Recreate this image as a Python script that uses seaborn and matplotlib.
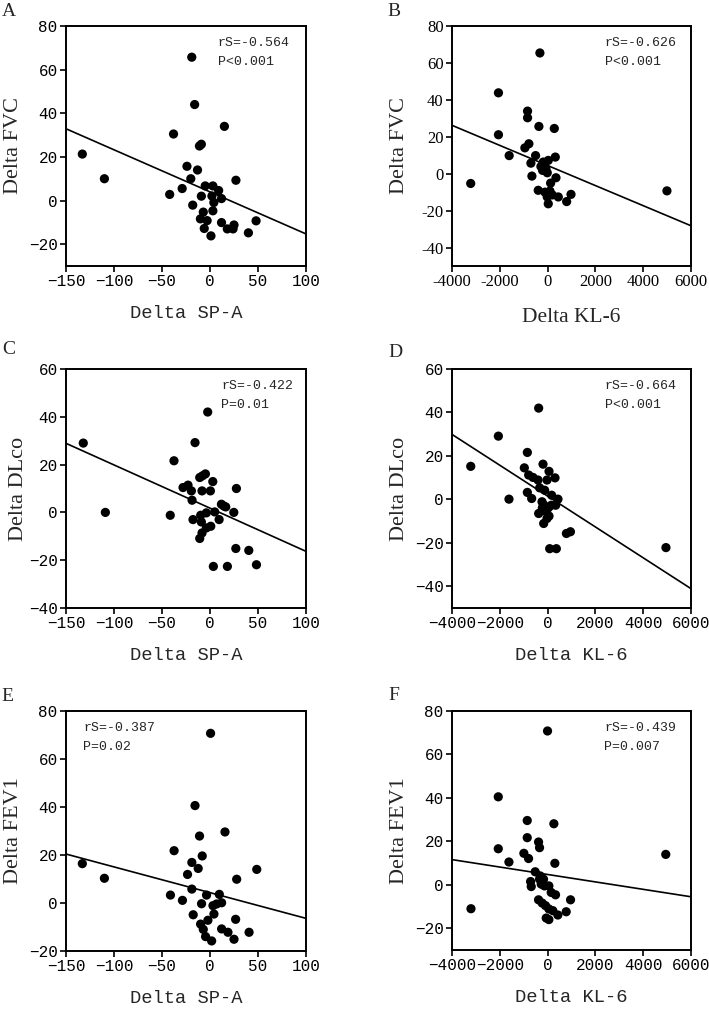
import pandas as pd
import seaborn as sns
import matplotlib
matplotlib.use("Agg")
import matplotlib.pyplot as plt

# values
a_spa = [-133, -110, -19, -16, -38, 15, -11, -9, -24, -13, -20, -29, -42, 27, -5, 3, 9, -9, 2, 12,
         4, -18, -7, 3, -10, -3, -6, 12, 18, 25, 24, 1, 40, 48]
a_fvc = [21.3, 10, 65.7, 44, 30.5, 34, 25, 25.8, 15.7, 14, 10, 5.5, 2.8, 9.3, 6.7, 6.7, 4.6, 2, 2.1, 0.9,
         -0.9, -2.1, -5.3, -4.7, -8.4, -9.2, -12.8, -10.1, -13, -11.2, -13, -16.2, -14.8, -9.3]

b_kl6 = [-3217, -2056, -2056, -1608, -322, -839, -839, -364, 280, -783, -951, -503, 322, -699, -182, 28,
         -280, -70, -14, -210, -657, 350, 126, -392, -112, 98, 979, -14, 448, 797, 28, 200, 4993]
b_fvc = [-5.3, 43.8, 21.1, 9.8, 65.4, 33.9, 30.3, 25.6, 24.5, 16.2, 14, 9.8, 9, 5.7, 6.3, 7.2,
         3.9, 2.8, 0.5, 1.8, -1.3, -2.2, -5.1, -9, -10, -9.4, -11.2, -12.6, -12.6, -15.1, -16.3, -11.5, -9.3]

c_spa = [-132, -109, -2.4, -15.6, -37.5, -4.8, -10.7, -7.9, 2.9, -28.1, -22.9, -19.4, -8.3, 0.4, 27.5,
         -18.7, 11.9, 14.3, 16.4, 4.9, -3.8, -41.4, 24.8, -17.7, -9.7, 9.5, -9, 0.8, -3.8, -8.3,
         -10.7, 26.9, 40.4, 3.5, 18.1, 48.4]
c_dlco = [29, 0, 42, 29.2, 21.6, 16.1, 14.6, 15.3, 12.9, 10.4, 11.4, 9, 9, 9, 10,
          5.1, 3.4, 2.7, 2.3, 0.2, -0.2, -1.2, 0, -3, -1.2, -3, -4, -5.8, -6.5, -8.6,
          -10.9, -15.1, -15.9, -22.6, -22.6, -21.9]

d_kl6 = [-3216, -2060, -1616, -374, 4952, -847, -192, -974, 59, -792, -611, -402, 310, -25, -332,
         -123, -847, 170, -667, 435, -234, 338, 156, -150, 31, -220, -53, -374, 59, -25,
         -164, 787, 955, 87, 366]
d_dlco = [15.2, 29.1, 0.1, 42, -22.2, 21.6, 16.2, 14.5, 12.9, 11.2, 10.1, 8.9, 9.9, 8.9, 5.3,
          4.2, 3.2, 1.9, 0.4, 0.1, -1.1, -2.7, -2.7, -2.7, -3.9, -3.9, -5.7, -6.5, -7.7, -8.8,
          -11.1, -15.7, -14.9, -22.7, -22.7]

e_spa = [-133, -110, 0.6, -15.6, 15.6, -10.9, -37.4, -8.1, -18.9, -12.3, -23.4, 48.7, 27.8, -18.9,
         -41.2, -28.7, -3.6, 9.7, -8.8, 3.1, 6.9, 12.1, 4.1, -17.5, -2.2, 26.7, -9.8, -7, 12.1,
         18.7, 40.7, -4.6, 25, 1.7]
e_fev1 = [16.4, 10.3, 70.7, 40.6, 29.6, 27.9, 21.8, 19.6, 16.9, 14.4, 11.9, 14, 9.9, 5.8,
          3.3, 1.1, 3.3, 3.6, -0.3, -1.1, -0.4, 0.1, -4.6, -4.9, -7.2, -6.8, -8.8, -11, -10.8,
          -12.2, -12.2, -14, -15.1, -15.8]

f_kl6 = [-3206, -3, -2064, 262, -852, -852, -379, -337, -2064, -993, -797, -1618, 304, -519, -309,
         -170, -712, -684, -337, -267, -128, 53, 151, 332, -379, 960, -226, -86, 53, 220,
         429, 778, -58, 53, 4944]
f_fev1 = [-11, 70.8, 40.5, 28.1, 29.6, 21.7, 19.7, 17.1, 16.6, 14.5, 12.1, 10.5, 9.9, 6, 4.1,
          2.6, 1.5, -0.8, 2.6, 0.3, -0.5, -0.5, -3.5, -4.6, -6.9, -6.9, -8.4, -9.6, -11.1, -11.9,
          -13.9, -12.4, -15.3, -16, 14]

# regression lines as drawn in the figure (intercept, slope)
fit_a = (3.98, -0.1928)
fit_b = (4.44, -0.00544)
fit_c = (1.78, -0.1808)
fit_d = (1.5, -0.0071)
fit_e = (4.32, -0.1072)
fit_f = (4.76, -0.00171)

notes = [("rS=-0.564", "P<0.001"), ("rS=-0.626", "P<0.001"), ("rS=-0.422", "P=0.01"),
         ("rS=-0.664", "P<0.001"), ("rS=-0.387", "P=0.02"), ("rS=-0.439", "P=0.007")]

spa_ticks = [-150, -100, -50, 0, 50, 100]
kl6_ticks = [-4000, -2000, 0, 2000, 4000, 6000]

sns.set_style("ticks")
plt.rcParams["font.family"] = ["Liberation Serif", "DejaVu Serif"]
plt.rcParams["axes.unicode_minus"] = False

MONO = "Liberation Mono"   # stand-in for the SimSun-looking text
SERIF = "Liberation Serif"

W, H = 709, 1009
fig = plt.figure(figsize=(W / 100, H / 100), dpi=100)


def box(left, top, right, bottom):
    return [left / W, 1 - bottom / H, (right - left) / W, (bottom - top) / H]


def panel(rect, x, y, fit, ylim, xticks, yticks, xlabel, ylabel, note, note_x, font,
          xlab_y=-0.163, ylab_x=-0.18):
    ax = fig.add_axes(rect)
    df = pd.DataFrame({"x": x, "y": y})
    sns.scatterplot(data=df, x="x", y="y", ax=ax, color="black", s=44,
                    edgecolor="none", zorder=3, legend=False)
    ax.axline((0, fit[0]), slope=fit[1], color="black", lw=1.2)
    ax.set_xlim(xticks[0], xticks[-1])
    ax.set_ylim(ylim)
    minus = "\u2212" if font == MONO else "-"
    size = 11.5 if font == MONO else 12
    ax.set_xticks(xticks, [str(t).replace("-", minus) for t in xticks],
                  fontfamily=font, fontsize=size)
    ax.set_yticks(yticks, [str(t).replace("-", minus) for t in yticks],
                  fontfamily=font, fontsize=size)
    ax.tick_params(direction="out", length=4, width=1.2, pad=2, colors="black")
    for s in ax.spines.values():
        s.set_linewidth(1.4)
        s.set_color("black")
    ax.set_xlabel(xlabel, fontfamily=font, fontsize=13.5 if font == MONO else 15.5)
    ax.set_ylabel(ylabel, fontfamily=SERIF, fontsize=16)
    ax.xaxis.set_label_coords(0.5, xlab_y)
    ax.yaxis.set_label_coords(ylab_x, 0.5)
    ax.text(note_x, 0.93, note[0], transform=ax.transAxes, fontfamily=MONO, fontsize=9.5, va="center")
    ax.text(note_x, 0.85, note[1], transform=ax.transAxes, fontfamily=MONO, fontsize=9.5, va="center")
    return ax


panel(box(66, 26, 306, 266), a_spa, a_fvc, fit_a, (-30, 80), spa_ticks, [-20, 0, 20, 40, 60, 80],
      "Delta SP-A", "Delta FVC", notes[0], 0.633, MONO)
panel(box(452, 26, 691, 266), b_kl6, b_fvc, fit_b, (-50, 80), kl6_ticks, [-40, -20, 0, 20, 40, 60, 80],
      "Delta KL-6", "Delta FVC", notes[1], 0.639, SERIF, xlab_y=-0.175)
panel(box(66, 369, 306, 608), c_spa, c_dlco, fit_c, (-40, 60), spa_ticks, [-40, -20, 0, 20, 40, 60],
      "Delta SP-A", "Delta DLco", notes[2], 0.646, MONO, ylab_x=-0.16)
panel(box(452, 369, 691, 608), d_kl6, d_dlco, fit_d, (-50, 60), kl6_ticks, [-40, -20, 0, 20, 40, 60],
      "Delta KL-6", "Delta DLco", notes[3], 0.639, MONO)
panel(box(66, 711, 306, 951), e_spa, e_fev1, fit_e, (-20, 80), spa_ticks, [-20, 0, 20, 40, 60, 80],
      "Delta SP-A", "Delta FEV1", notes[4], 0.071, MONO)
panel(box(452, 711, 691, 950), f_kl6, f_fev1, fit_f, (-30, 80), kl6_ticks, [-20, 0, 20, 40, 60, 80],
      "Delta KL-6", "Delta FEV1", notes[5], 0.636, MONO)

# panel letters
for letter, px, py in [("A", 2, 3), ("B", 387, 3), ("C", 2, 341), ("D", 388, 344),
                       ("E", 1, 688), ("F", 388, 687)]:
    fig.text(px / W, 1 - py / H, letter, fontfamily=SERIF, fontsize=14, va="top", ha="left")

fig.savefig("out.png", dpi=100)
